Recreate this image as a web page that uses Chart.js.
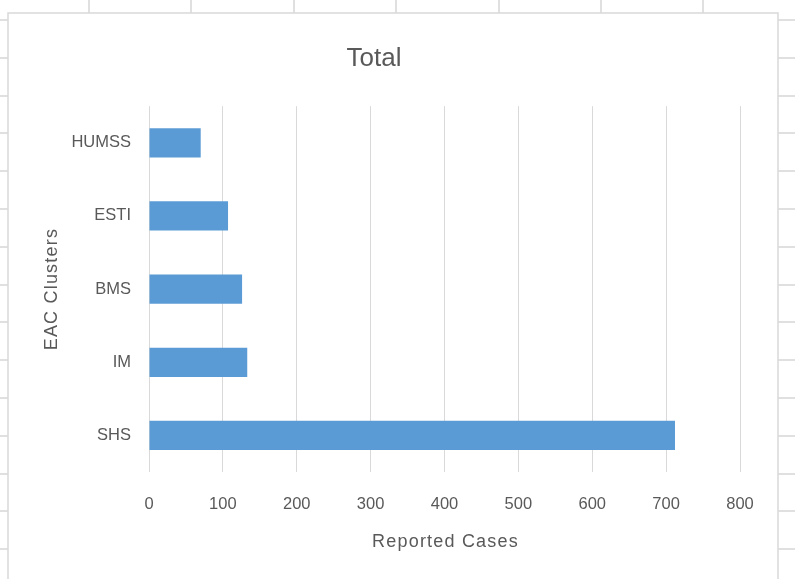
<!DOCTYPE html>
<html lang="en">
<head>
  <meta charset="UTF-8" />
  <title>Total</title>
  <script src="https://cdn.jsdelivr.net/npm/chart.js"></script>
  <style>
    * { margin: 0; padding: 0; box-sizing: border-box; }
    body { background: #fff; }
    .wrap { width: 795px; height: 579px; position: relative; }
  </style>
</head>
<body>
  <div class="wrap">
    <canvas id="totalChart"></canvas>
  </div>

  <script>
    // chart data
    const clusters = ['HUMSS', 'ESTI', 'BMS', 'IM', 'SHS'];
    const reportedCases = [70, 107, 126, 133, 712];
    const xTickValues = [0, 100, 200, 300, 400, 500, 600, 700, 800];
    const chartTitle = 'Total';
    const xTitle = 'Reported Cases';
    const yTitle = 'EAC Clusters';

    const FONT = '"Liberation Sans", Arial, sans-serif';
    const TEXT = '#595959';

    // spreadsheet cells behind the chart box
    const sheetBackground = {
      id: 'sheetBackground',
      beforeDraw(chart) {
        const c = chart.ctx;
        const w = chart.width, h = chart.height;
        c.save();
        c.fillStyle = '#fff';
        c.fillRect(0, 0, w, h);
        c.strokeStyle = '#d6d6d6';
        c.lineWidth = 1.5;
        [89, 191, 294, 396, 499, 601, 703].forEach(x => {
          c.beginPath(); c.moveTo(x, 0); c.lineTo(x, h); c.stroke();
        });
        for (let y = 20; y < h; y += 37.8) {
          c.beginPath(); c.moveTo(0, Math.round(y)); c.lineTo(w, Math.round(y)); c.stroke();
        }
        c.fillStyle = '#fff';
        c.fillRect(8, 13, 770, h);
        c.strokeStyle = '#d9d9d9';
        c.strokeRect(8, 13, 770, h + 10);
        c.restore();
      }
    };

    // axis titles with letter spacing, like Excel draws them
    const axisTitles = {
      id: 'axisTitles',
      afterDraw(chart) {
        const c = chart.ctx;
        const a = chart.chartArea;
        c.save();
        c.font = '18px ' + FONT;
        c.letterSpacing = '1.2px';
        c.fillStyle = TEXT;
        c.textAlign = 'center';
        c.textBaseline = 'middle';
        c.fillText(xTitle, (a.left + a.right) / 2 + 1, 542);
        c.translate(52, (a.top + a.bottom) / 2 + 1);
        c.rotate(-Math.PI / 2);
        c.fillText(yTitle, 1, 0);
        c.restore();
      }
    };

    const ctx = document.getElementById('totalChart').getContext('2d');

    new Chart(ctx, {
      type: 'bar',
      data: {
        labels: clusters,
        datasets: [{
          label: chartTitle,
          data: reportedCases,
          backgroundColor: '#5b9bd5',
          borderWidth: 0,
          barPercentage: 0.8,
          categoryPercentage: 0.5
        }]
      },
      options: {
        indexAxis: 'y',
        responsive: true,
        maintainAspectRatio: false,
        animation: false,
        layout: { padding: { left: 8, right: 55, top: 0, bottom: 0 } },
        plugins: {
          legend: { display: false },
          tooltip: { enabled: false },
          title: {
            display: true,
            text: chartTitle,
            color: TEXT,
            font: { family: FONT, size: 26, weight: 'normal' },
            padding: { top: 43, bottom: 32 }
          }
        },
        scales: {
          x: {
            min: xTickValues[0],
            max: xTickValues[xTickValues.length - 1],
            afterBuildTicks(scale) {
              scale.ticks = xTickValues.map(v => ({ value: v }));
            },
            afterFit(scale) { scale.height = 107; },
            grid: { color: '#d9d9d9', lineWidth: 1, drawTicks: false },
            border: { display: false },
            ticks: {
              color: TEXT,
              padding: 23,
              font: { family: FONT, size: 16.5 }
            }
          },
          y: {
            afterFit(scale) { scale.width = 141; },
            grid: { display: false, drawTicks: false },
            border: { display: false },
            ticks: {
              color: TEXT,
              padding: 18,
              font: { family: FONT, size: 16.5 }
            }
          }
        }
      },
      plugins: [sheetBackground, axisTitles]
    });
  </script>
</body>
</html>
